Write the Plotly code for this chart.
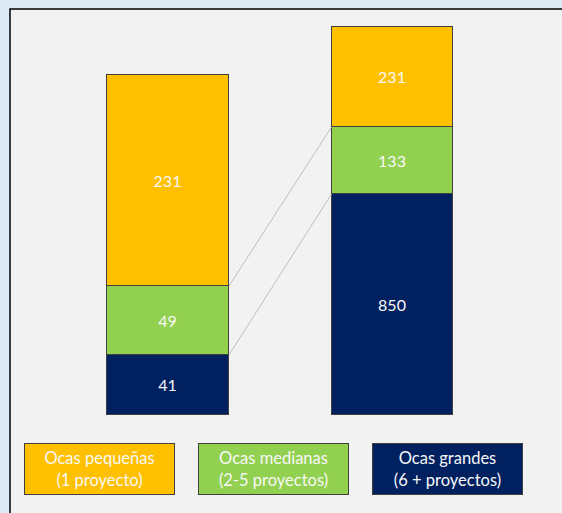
import plotly.graph_objects as go

# Data
bar_names = ["Ocas", "Proyectos"]
categories = ["Ocas grandes", "Ocas medianas", "Ocas pequeñas"]
labels_left = [41, 49, 231]
labels_right = [850, 133, 231]
# visual segment heights (arbitrary units)
heights_left = [60, 69, 211]
heights_right = [221, 67, 100]
colors = ["#002060", "#92D050", "#FFC000"]
legend_texts = ["Ocas pequeñas<br>(1 proyecto)", "Ocas medianas<br>(2-5 proyectos)", "Ocas grandes<br>(6 + proyectos)"]
legend_colors = ["#FFC000", "#92D050", "#002060"]

W, H = 562, 513
FONT = "Lato, Open Sans, sans-serif"
bar_w = 0.543

fig = go.Figure()
for i, cat in enumerate(categories):
    fig.add_trace(go.Bar(
        x=[0, 1], y=[heights_left[i], heights_right[i]],
        text=[str(labels_left[i]), str(labels_right[i])],
        textposition="inside", insidetextanchor="middle",
        textfont=dict(color="#F8F8F8", size=16, family=FONT),
        constraintext="none",
        marker=dict(color=colors[i], line=dict(color="#3F3F3F", width=1)),
        width=bar_w, name=cat, showlegend=False, hoverinfo="skip",
    ))

shapes = [dict(type="rect", xref="paper", yref="paper", x0=10/W, x1=1.02, y0=-0.02, y1=1-9/H,
               fillcolor="#F2F2F2", line=dict(color="black", width=1.5), layer="below")]
# connector lines
cl, cr = 0, 0
for k in range(2):
    cl += heights_left[k]
    cr += heights_right[k]
    shapes.append(dict(type="line", xref="x", yref="y", x0=bar_w/2, x1=1-bar_w/2, y0=cl, y1=cr,
                       line=dict(color="#BFBFBF", width=1)))

annotations = []
centers = [99.5, 273.5, 447.5]
for t, c, cx in zip(legend_texts, legend_colors, centers):
    annotations.append(dict(
        x=cx/W, y=1-469/H, xref="paper", yref="paper", text=t, showarrow=False,
        width=147, height=48, bgcolor=c, bordercolor="#404040", borderwidth=1,
        font=dict(color="#F8F8F8", size=16.5, family=FONT), align="center",
        xanchor="center", yanchor="middle"))

fig.update_layout(
    width=W, height=H, margin=dict(l=0, r=0, t=0, b=0),
    paper_bgcolor="#DDEBF7", plot_bgcolor="rgba(0,0,0,0)",
    barmode="stack", bargap=0,
    xaxis=dict(range=[-168/224.5, (W-168)/224.5], visible=False, fixedrange=True),
    yaxis=dict(range=[-(H-415), 415], visible=False, fixedrange=True),
    shapes=shapes, annotations=annotations, showlegend=False,
)
fig.write_html("out.html", config={"displayModeBar": False},
               post_script="document.body.style.margin='0px';document.body.style.overflow='hidden';document.body.style.background='#F2F2F2';")
